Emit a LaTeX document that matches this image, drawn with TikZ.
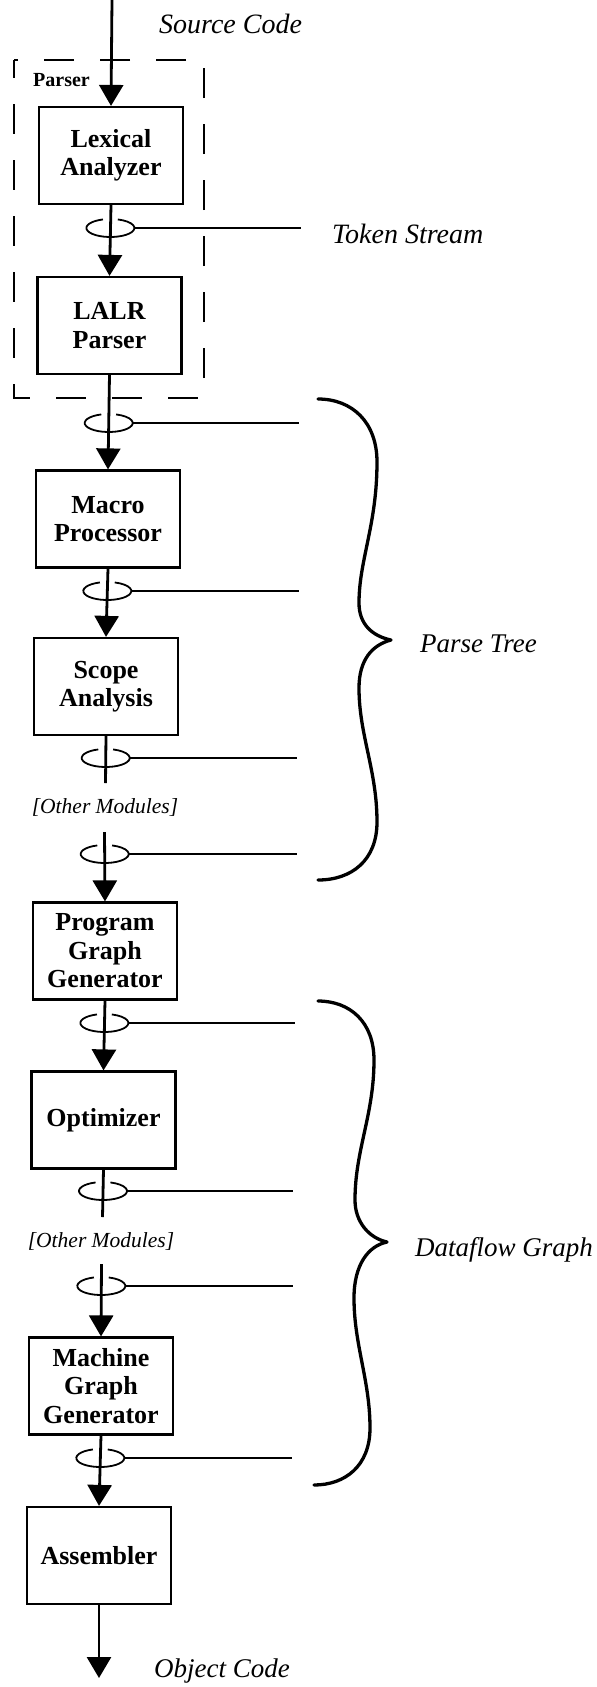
\documentclass[tikz,border=0pt]{standalone}
\usepackage{fontspec}
\setmainfont{Liberation Serif}
\usetikzlibrary{arrows.meta,calc}

% a tap on a connector: a ring round the wire (back arc broken where the wire
% passes in front) and a wire running off to the right
\newcommand\tapat[4]{%
  \coordinate (#1) at (#2,#3);
  \coordinate (#1w) at (#4,#3);
  \draw[tapring] ([shift={(108:24pt and 9pt)}]#1)
    arc[start angle=108,end angle=432,x radius=24pt,y radius=9pt];
  \draw[tapwire] ([xshift=24pt]#1) -- (#1w);
}

\begin{document}
\begin{tikzpicture}[x=1pt,y=1pt,
  module/.style={draw, line width=2.2pt, minimum width=144pt, minimum height=97pt,
    inner sep=0pt, align=center, font=\bfseries\fontsize{26}{28.5}\selectfont},
  flow/.style={line width=2.8pt},
  flowarrow/.style={flow, -{Triangle[length=21pt,width=24pt]}},
  tapwire/.style={line width=1.6pt},
  tapring/.style={line width=1.8pt},
  iolabel/.style={inner sep=0pt, font=\itshape\fontsize{27}{30}\selectfont},
  biglabel/.style={inner sep=0pt, font=\itshape\fontsize{28}{30}\selectfont},
  others/.style={inner sep=0pt, font=\itshape\fontsize{21.5}{24}\selectfont},
  parserframe/.style={line width=2.2pt, dash pattern=on 30pt off 26pt, dash phase=12pt},
  bigbrace/.style={line width=3.3pt, line cap=round, line join=round},
]
\path[use as bounding box, fill=white] (0,0) rectangle (597,-1687);

% pipeline stages
\node[module] (lex)   at (111,-155.5)  {Lexical\\Analyzer};
\node[module] (lalr)  at (109.5,-325.5) {LALR\\Parser};
\node[module] (macro) at (108,-519)    {Macro\\Processor};
\node[module] (scope) at (106,-686.5)  {Scope\\Analysis};
\node[module] (pgg)   at (105,-951)    {Program\\Graph\\Generator};
\node[module] (opt)   at (103.5,-1120) {Optimizer};
\node[module] (mgg)   at (101,-1386)   {Machine\\Graph\\Generator};
\node[module] (asm)   at (99,-1555.5)  {Assembler};

% parser group
\draw[parserframe] (14,-60) rectangle (204,-398);
\node[anchor=west, inner sep=0pt, font=\bfseries\fontsize{20}{22}\selectfont] (pl) at (33,-80) {Parser};

% labels
\node[biglabel, anchor=base west] (src)   at (159,-33)   {Source Code};
\node[biglabel, anchor=base west] (tok)   at (332,-243)  {Token Stream};
\node[iolabel,  anchor=base west] (ptree) at (420,-652)  {Parse Tree};
\node[iolabel,  anchor=base west] (dfg)   at (415,-1256) {Dataflow Graph};
\node[iolabel,  anchor=base west] (obj)   at (154,-1677) {Object Code};
\node[others] (om1) at (105,-807)  {[Other Modules]};
\node[others] (om2) at (101,-1241) {[Other Modules]};

% free ends of the main flow
\coordinate (in)  at (112,0);
\coordinate (e1)  at (105.5,-783);
\coordinate (s1)  at (104.5,-832);
\coordinate (e2)  at (102.5,-1217);
\coordinate (s2)  at (101.5,-1264);
\coordinate (out) at (99,-1678);

\draw[flowarrow] (in) -- (lex.north);
\draw[flowarrow] (lex.south) -- (lalr.north);
\draw[flowarrow] (lalr.south) -- (macro.north);
\draw[flowarrow] (macro.south) -- (scope.north);
\draw[flow] (scope.south) -- (e1);
\draw[flowarrow] (s1) -- (pgg.north);
\draw[flowarrow] (pgg.south) -- (opt.north);
\draw[flow] (opt.south) -- (e2);
\draw[flowarrow] (s2) -- (mgg.north);
\draw[flowarrow] (mgg.south) -- (asm.north);
\draw[flowarrow] (asm.south) -- (out);

% taps on the flow
\tapat{t0}{110.4}{-228}{301}
\tapat{t1}{108.7}{-423}{299}
\tapat{t2}{107.3}{-591}{299}
\tapat{t3}{105.7}{-758}{297}
\tapat{t4}{104.7}{-854}{297}
\tapat{t5}{104.4}{-1023}{295}
\tapat{t6}{103}{-1191}{293}
\tapat{t7}{101.3}{-1286}{293}
\tapat{t8}{100.3}{-1458}{292}

% parse tree brace
\draw[bigbrace] (318,-399) .. controls (352,-399) and (377,-422) .. (377,-462)
  .. controls (377,-525) and (359,-560) .. (359,-603)
  .. controls (359,-624) and (372,-636) .. (391,-640)
  .. controls (372,-645) and (359,-660) .. (359,-688)
  .. controls (359,-735) and (377,-770) .. (377,-822)
  .. controls (377,-860) and (352,-880) .. (318,-880);

% dataflow graph brace
\draw[bigbrace] (318,-1001) .. controls (350,-1001) and (374,-1022) .. (374,-1060)
  .. controls (374,-1115) and (355,-1150) .. (355,-1200)
  .. controls (355,-1222) and (369,-1238) .. (387,-1242)
  .. controls (368,-1246) and (354,-1265) .. (354,-1298)
  .. controls (354,-1345) and (370,-1380) .. (370,-1428)
  .. controls (370,-1466) and (345,-1485) .. (314,-1485);
\end{tikzpicture}
\end{document}
